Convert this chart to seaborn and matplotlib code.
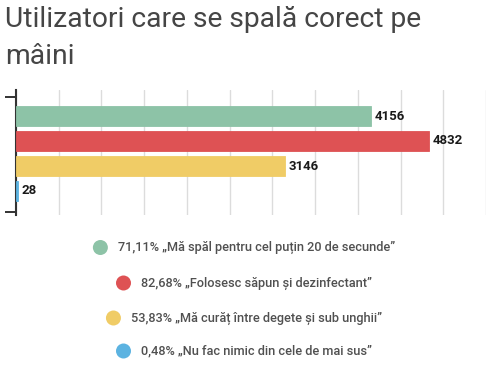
import matplotlib
matplotlib.use("Agg")
import matplotlib.pyplot as plt
import seaborn as sns
import pandas as pd
from matplotlib.patches import Circle

categories = ["Mă spăl pentru cel puțin 20 de secunde",
              "Folosesc săpun și dezinfectant",
              "Mă curăț între degete și sub unghii",
              "Nu fac nimic din cele de mai sus"]
values = [4156, 4832, 3146, 28]
percents = ["71,11%", "82,68%", "53,83%", "0,48%"]
colors = ["#8dc3a7", "#de5254", "#f0cc66", "#5cb3e1"]
title_lines = ["Utilizatori care se spală corect pe", "mâini"]

sns.set_style("white")
plt.rcParams['font.family'] = ['Roboto', 'DejaVu Sans']

W, H = 497, 375
fig = plt.figure(figsize=(W / 100, H / 100), dpi=100)
ax = fig.add_axes([16 / W, (H - 215) / H, 470 / W, 125 / H])

df = pd.DataFrame({"cat": categories, "val": values})
sns.barplot(data=df, x="val", y="cat", hue="cat", palette=colors,
            legend=False, width=0.8, ax=ax, saturation=1, orient="h")

ax.set_xlim(0, 5500)
ax.set_ylim(3.96, -1.04)
ax.set_xticks(range(0, 5501, 500))
ax.set_xticklabels([])
ax.tick_params(axis="x", length=0)
ax.grid(axis="x", color="#dcdcdc", linewidth=1)
ax.set_axisbelow(True)
ax.set_yticks([-0.77, 3.83])
ax.set_yticklabels([])
ax.tick_params(axis="y", length=8, width=1.4, color="#333333", left=True)
ax.set_xlabel("")
ax.set_ylabel("")
for s in ["top", "right", "bottom"]:
    ax.spines[s].set_visible(False)
ax.spines["left"].set_color("#333333")
ax.spines["left"].set_linewidth(1.5)
ax.spines["left"].set_zorder(1.5)

for c in ax.containers:
    for p in c:
        p.set_zorder(3)
        p.set_edgecolor(p.get_facecolor())
        p.set_linewidth(0.6)
    ax.bar_label(c, fmt="%d", padding=2.5, fontsize=9.5, fontweight="bold",
                 color="#1a1a1a")

# Title
fig.text(5 / W, 1 - 27.3 / H, title_lines[0], fontsize=20.3, color="#454545",
         ha="left", va="baseline")
fig.text(5 / W, 1 - 64 / H, title_lines[1], fontsize=20.3, color="#454545",
         ha="left", va="baseline")

# Legend (centered entries)
fig.canvas.draw()
renderer = fig.canvas.get_renderer()
ys = [247.5, 283, 318, 351]
center_x = 244
r = 7.5
gap = 10
for pct, cat, col, y in zip(percents, categories, colors, ys):
    label = f"{pct} „{cat}”"
    t = fig.text(0, 0, label, fontsize=9.2, fontweight="medium", color="#505050",
                 ha="left", va="center")
    bb = t.get_window_extent(renderer)
    tw = bb.width
    total = 2 * r + gap + tw
    left = center_x - total / 2
    t.set_position(((left + 2 * r + gap) / W, 1 - y / H))
    circ = Circle((left + r, H - y), r, transform=None, facecolor=col,
                  edgecolor="none")
    fig.patches.append(circ)

fig.savefig("out.png", dpi=100)
